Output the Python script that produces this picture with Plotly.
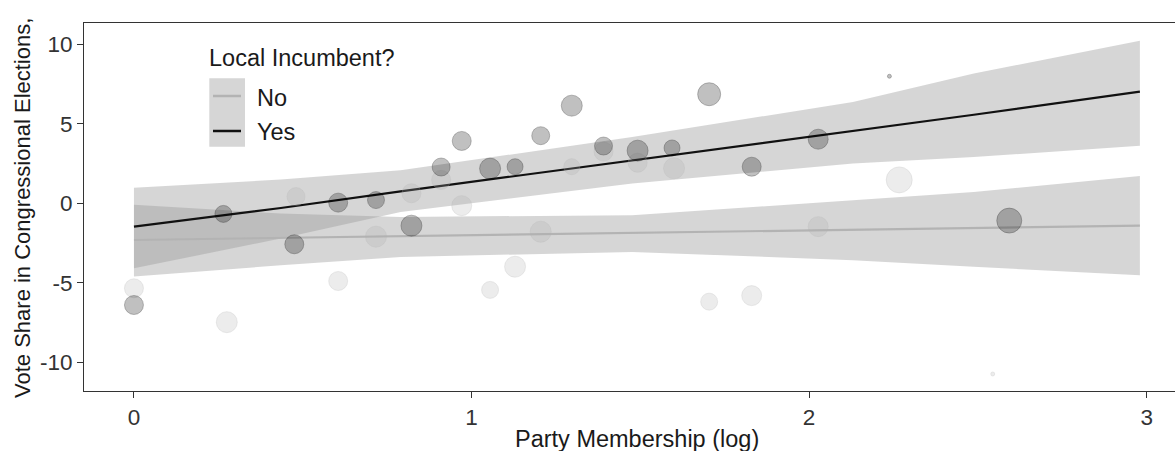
import plotly.graph_objects as go

# ---------------- data ----------------
# Local incumbent = Yes (dark points)
yes_x = [0.0, 0.265, 0.475, 0.605, 0.717, 0.822, 0.910, 0.971, 1.055, 1.129,
         1.205, 1.297, 1.391, 1.492, 1.594, 1.704, 1.830, 2.027, 2.238, 2.593]
yes_y = [-6.40, -0.67, -2.58, 0.04, 0.20, -1.41, 2.28, 3.92, 2.18, 2.30,
         4.25, 6.14, 3.60, 3.31, 3.48, 6.86, 2.30, 4.03, 7.99, -1.09]
yes_size = [19, 17, 19, 19, 17, 21, 18, 19, 21, 16,
            18, 21, 18, 21, 16, 23, 19, 20, 4, 25]

# Local incumbent = No (light points)
no_x = [0.0, 0.275, 0.480, 0.605, 0.717, 0.822, 0.910, 0.971, 1.055, 1.129,
        1.205, 1.297, 1.391, 1.492, 1.600, 1.704, 1.830, 2.027, 2.267, 2.544]
no_y = [-5.35, -7.48, 0.42, -4.89, -2.10, 0.63, 1.47, -0.15, -5.45, -3.99,
        -1.79, 2.30, 3.25, 2.55, 2.20, -6.19, -5.81, -1.47, 1.47, -10.74]
no_size = [19, 21, 18, 19, 21, 19, 19, 20, 17, 21,
           21, 16, 19, 19, 21, 17, 20, 20, 26, 4]

# Linear fits with confidence bands
band_x = [0.0, 0.435, 0.79, 1.476, 2.13, 2.488, 2.98]
yes_fit = [-1.47, -0.30, 0.75, 2.70, 4.52, 5.57, 7.02]
yes_hi = [0.98, 1.49, 2.07, 4.17, 6.37, 8.16, 10.23]
yes_lo = [-4.09, -2.22, -0.55, 1.24, 2.50, 2.91, 3.62]
no_fit = [-2.31, -2.18, -2.07, -1.88, -1.68, -1.57, -1.41]
no_hi = [-0.10, -0.65, -0.86, -0.75, 0.19, 0.71, 1.72]
no_lo = [-4.60, -3.90, -3.38, -3.06, -3.58, -4.00, -4.53]

x_ticks = [0, 1, 2, 3]
x_tick_labels = ["0", "1", "2", "3"]
y_ticks = [-10, -5, 0, 5, 10]
y_tick_labels = ["-10", "-5", "0", "5", "10"]

legend_title = "Local Incumbent?"
legend_labels = ["No", "Yes"]
x_title = "Party Membership (log)"
y_title = "Vote Share in Congressional Elections,"

# ---------------- styling ----------------
W, H = 1175, 451
ML, MR, MT, MB = 84, 0, 23, 60
FONT = "Liberation Sans, Arial, Helvetica, sans-serif"
RIBBON = "rgba(153,153,153,0.4)"
YES_COL = "#111111"
NO_COL = "#b3b3b3"


def px(x):
    return (x - ML) / (W - ML - MR)


def py(y):
    return (H - MB - y) / (H - MT - MB)


fig = go.Figure()

for lo, hi in [(no_lo, no_hi), (yes_lo, yes_hi)]:
    fig.add_trace(go.Scatter(
        x=band_x + band_x[::-1], y=hi + lo[::-1], mode="lines",
        fill="toself", fillcolor=RIBBON, line=dict(width=0),
        hoverinfo="skip", showlegend=False))

fig.add_trace(go.Scatter(x=band_x, y=no_fit, mode="lines",
                         line=dict(color=NO_COL, width=2.2), showlegend=False))
fig.add_trace(go.Scatter(x=band_x, y=yes_fit, mode="lines",
                         line=dict(color=YES_COL, width=2.2), showlegend=False))

fig.add_trace(go.Scatter(
    x=no_x, y=no_y, mode="markers", showlegend=False,
    marker=dict(size=no_size, color="rgba(179,179,179,0.35)",
                line=dict(color="rgba(179,179,179,0.35)", width=1))))
fig.add_trace(go.Scatter(
    x=yes_x, y=yes_y, mode="markers", showlegend=False,
    marker=dict(size=yes_size, color="rgba(0,0,0,0.35)",
                line=dict(color="rgba(0,0,0,0.35)", width=1))))

# manual legend (ggplot style, inside the panel)
shapes = [
    dict(type="rect", xref="paper", yref="paper",
         x0=px(209.3), x1=px(245), y0=py(146.7), y1=py(78.3),
         fillcolor=RIBBON, line=dict(width=0), layer="above"),
    dict(type="line", xref="paper", yref="paper",
         x0=px(213), x1=px(241), y0=py(96), y1=py(96),
         line=dict(color=NO_COL, width=2.5), layer="above"),
    dict(type="line", xref="paper", yref="paper",
         x0=px(213), x1=px(241), y0=py(131), y1=py(131),
         line=dict(color=YES_COL, width=2.5), layer="above"),
]

LEG_SIZE = 23.5
annotations = [
    dict(text=legend_title, xref="paper", yref="paper", x=px(208), y=py(58),
         xanchor="left", yanchor="middle", showarrow=False, borderpad=0,
         font=dict(family=FONT, size=LEG_SIZE, color="#1a1a1a")),
    dict(text=legend_labels[0], xref="paper", yref="paper", x=px(255.5), y=py(98),
         xanchor="left", yanchor="middle", showarrow=False, borderpad=0,
         font=dict(family=FONT, size=LEG_SIZE, color="#1a1a1a")),
    dict(text=legend_labels[1], xref="paper", yref="paper", x=px(255.5), y=py(131.5),
         xanchor="left", yanchor="middle", showarrow=False, borderpad=0,
         font=dict(family=FONT, size=LEG_SIZE, color="#1a1a1a")),
    dict(text=x_title, xref="paper", yref="paper", x=px(636.5), y=py(438.5),
         xanchor="center", yanchor="middle", showarrow=False, borderpad=0,
         font=dict(family=FONT, size=23.5, color="#1a1a1a")),
    dict(text=y_title, xref="paper", yref="paper", x=px(22.5), y=py(208.5),
         xanchor="center", yanchor="middle", showarrow=False, borderpad=0,
         textangle=-90, font=dict(family=FONT, size=22, color="#1a1a1a")),
]

axis_common = dict(showgrid=False, zeroline=False, showline=True,
                   linecolor="#333333", linewidth=1, ticks="outside",
                   ticklen=6, tickwidth=1, tickcolor="#333333",
                   tickfont=dict(family=FONT, size=22.5, color="#333333"))

fig.update_layout(
    width=W, height=H,
    margin=dict(l=ML, r=MR, t=MT, b=MB, pad=0),
    paper_bgcolor="white", plot_bgcolor="white",
    showlegend=False, hovermode=False,
    xaxis=dict(range=[-0.148, 3.084], tickvals=x_ticks, ticktext=x_tick_labels,
               mirror=True, **axis_common),
    yaxis=dict(range=[-11.81, 11.34], tickvals=y_ticks, ticktext=y_tick_labels,
               **axis_common),
    shapes=shapes, annotations=annotations,
)

fig.write_html("out.html")
